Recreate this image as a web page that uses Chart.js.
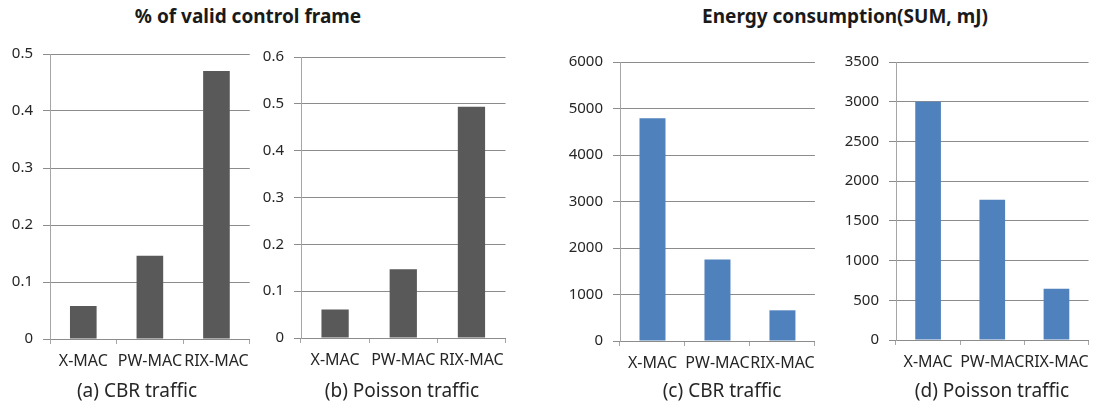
<!DOCTYPE html>
<html>
<head>
<meta charset="utf-8">
<script src="https://cdn.jsdelivr.net/npm/chart.js@4"></script>
<style>
  html, body { margin: 0; padding: 0; background: #fff; width: 1097px; height: 403px; overflow: hidden; position: relative; font-family: "Noto Sans", sans-serif; }
  .panel { position: absolute; top: 0; height: 403px; }
  .heading { position: absolute; top: 3px; line-height: 26px; font-weight: bold; font-size: 19px; color: #1a1a1a; transform: translateX(-50%); white-space: nowrap; }
  .caption { position: absolute; top: 378px; line-height: 24px; font-size: 19px; color: #262626; transform: translateX(-50%); white-space: nowrap; }
</style>
</head>
<body>
<div class="heading" style="left:248px">% of valid control frame</div>
<div class="heading" style="left:845px">Energy consumption(SUM, mJ)</div>
<div class="panel" id="pa"><canvas id="ca"></canvas></div>
<div class="panel" id="pb"><canvas id="cb"></canvas></div>
<div class="panel" id="pc"><canvas id="cc"></canvas></div>
<div class="panel" id="pd"><canvas id="cd"></canvas></div>
<div class="caption" id="capA" style="left:137px"></div>
<div class="caption" id="capB" style="left:402px"></div>
<div class="caption" id="capC" style="left:722px"></div>
<div class="caption" id="capD" style="left:992px"></div>
<script>
// MAC protocols compared in every panel
const categories = ['X-MAC', 'PW-MAC', 'RIX-MAC'];

// Share of valid control frames
const validCbr = [0.058, 0.146, 0.470];
const validPoisson = [0.061, 0.147, 0.494];

// Summed energy consumption (mJ)
const energyCbr = [4790, 1755, 660];
const energyPoisson = [3000, 1765, 645];

// Value axis ranges: [max, step]
const validCbrAxis = [0.5, 0.1];
const validPoissonAxis = [0.6, 0.1];
const energyCbrAxis = [6000, 1000];
const energyPoissonAxis = [3500, 500];

const captions = ['(a) CBR traffic', '(b) Poisson traffic', '(c) CBR traffic', '(d) Poisson traffic'];
['capA', 'capB', 'capC', 'capD'].forEach((id, i) => { document.getElementById(id).textContent = captions[i]; });

const FONT = '"Noto Sans", sans-serif';
const TEXT = '#262626';
const GRAY_BAR = '#595959';
const BLUE_BAR = '#4f81bd';

function panel(boxId, canvasId, frame, values, axis, color) {
  const axisW = 60, xH = 30;
  const padBottom = 403 - frame.bottom - xH;
  const box = document.getElementById(boxId);
  box.style.left = (frame.left - axisW) + 'px';
  box.style.width = (frame.right - frame.left + axisW + 2) + 'px';
  new Chart(document.getElementById(canvasId), {
    type: 'bar',
    data: {
      labels: categories,
      datasets: [{ data: values, backgroundColor: color, categoryPercentage: 1, barPercentage: 0.4 }]
    },
    options: {
      responsive: true,
      maintainAspectRatio: false,
      animation: false,
      layout: { padding: { top: frame.top, right: 2, bottom: padBottom, left: 0 } },
      plugins: {
        legend: { display: false },
        tooltip: { enabled: false }
      },
      scales: {
        x: {
          grid: { drawOnChartArea: false, tickLength: 5, color: '#a6a6a6', offset: true },
          border: { color: '#8c8c8c' },
          ticks: { font: { family: FONT, size: 16 }, color: TEXT, padding: 8, maxRotation: 0, autoSkip: false },
          afterFit(s) { s.height = xH; }
        },
        y: {
          min: 0, max: axis[0],
          ticks: {
            stepSize: axis[1], font: { family: FONT, size: 15 }, color: TEXT, padding: 10,
            callback: v => String(+v.toFixed(2))
          },
          grid: { color: '#8c8c8c', tickLength: 7 },
          border: { color: '#a6a6a6' },
          afterFit(s) { s.width = axisW; }
        }
      }
    }
  });
}

panel('pa', 'ca', { left: 50, right: 255, top: 54, bottom: 339 }, validCbr, validCbrAxis, GRAY_BAR);
panel('pb', 'cb', { left: 301, right: 510, top: 57, bottom: 338 }, validPoisson, validPoissonAxis, GRAY_BAR);
panel('pc', 'cc', { left: 620, right: 821, top: 62, bottom: 341 }, energyCbr, energyCbrAxis, BLUE_BAR);
panel('pd', 'cd', { left: 896, right: 1095, top: 62, bottom: 340 }, energyPoisson, energyPoissonAxis, BLUE_BAR);
</script>
</body>
</html>
